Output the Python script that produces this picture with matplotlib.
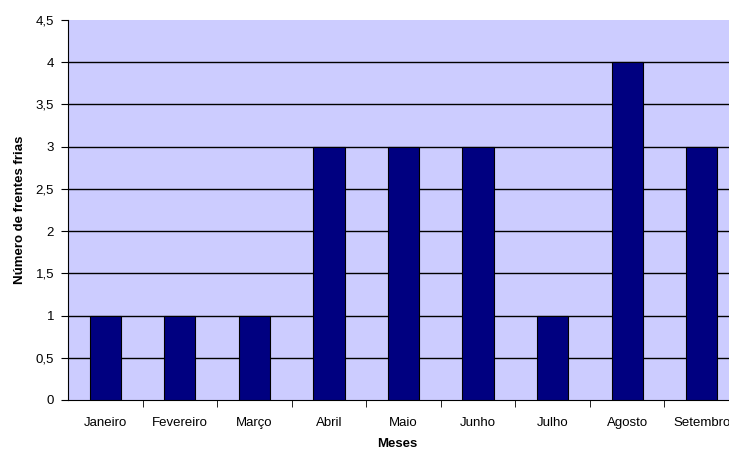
import matplotlib.pyplot as plt
import numpy as np

plt.rcParams['font.family'] = ['Liberation Sans', 'DejaVu Sans']

meses = ['Janeiro', 'Fevereiro', 'Março', 'Abril', 'Maio', 'Junho',
         'Julho', 'Agosto', 'Setembro']
frentes = [1, 1, 1, 3, 3, 3, 1, 4, 3]
yticks = [0, 0.5, 1, 1.5, 2, 2.5, 3, 3.5, 4, 4.5]

fig = plt.figure(figsize=(7.29, 4.5), dpi=100)
# plot area runs past the right edge, so the last month is cut off
ax = fig.add_axes([68 / 729, 50 / 450, 671 / 729, 380 / 450])
ax.set_facecolor('#CCCCFF')

x = np.arange(len(meses))
ax.bar(x, frentes, width=0.42, color='#000080', edgecolor='black',
       linewidth=0.8, zorder=3)

ax.set_xlim(-0.5, len(meses) - 0.5)
ax.set_ylim(0, 4.5)
ax.set_yticks(yticks)
ax.set_yticklabels([f'{v:g}'.replace('.', ',') for v in yticks], fontsize=9.5)
for v in yticks[1:-1]:
    ax.axhline(v, color='black', linewidth=1, zorder=1)

# month names centred, tick marks between categories
ax.set_xticks(x)
ax.set_xticklabels(meses, fontsize=9.5)
ax.tick_params(axis='x', length=0, pad=12)
ax.set_xticks(np.arange(len(meses)) + 0.5, minor=True)
ax.tick_params(axis='x', which='minor', length=5, direction='out', color='black')
ax.tick_params(axis='y', length=5, direction='out', color='black', pad=5)

for side in ['top', 'right']:
    ax.spines[side].set_visible(False)
ax.spines['left'].set_color('black')
ax.spines['bottom'].set_color('black')

ax.set_xlabel('Meses', fontsize=9.5, fontweight='bold', va='center')
ax.xaxis.set_label_coords(0.49, -0.117)
ax.set_ylabel('Número de frentes frias', fontsize=9.5, fontweight='bold', labelpad=7)

fig.savefig('out.png', dpi=100)
